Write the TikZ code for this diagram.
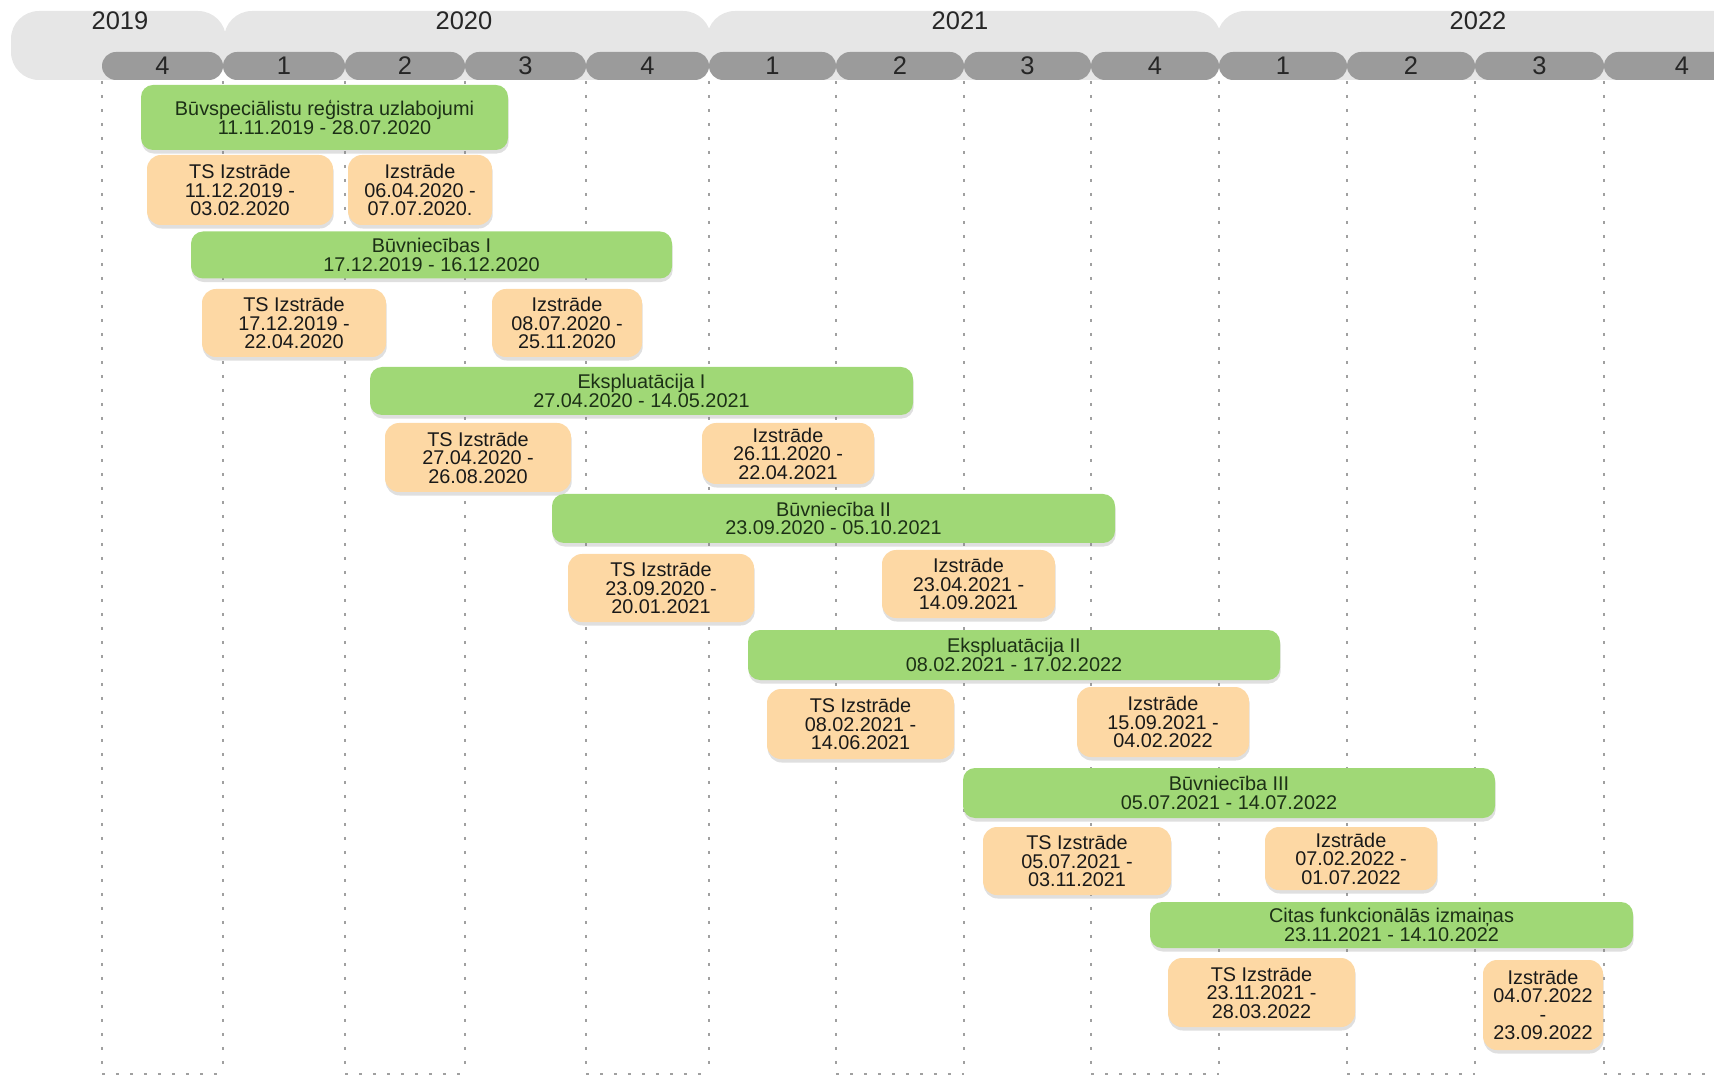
\documentclass[tikz,border=0pt]{standalone}
\usepackage{fontspec}
\setmainfont{Liberation Sans}
\usetikzlibrary{shadows}
\definecolor{bargreen}{RGB}{160,216,118}
\definecolor{taskorange}{RGB}{253,216,164}
\definecolor{yearbg}{RGB}{230,230,230}
\definecolor{qgrey}{RGB}{155,155,155}
\definecolor{gridgrey}{RGB}{160,160,160}
\definecolor{bartext}{RGB}{28,48,22}
\tikzset{
  phase/.style 2 args={fill=bargreen, rounded corners=0.24cm, minimum width=#1*0.02cm, minimum height=#2*0.02cm, inner sep=0pt, align=center, text=bartext, font=\fontsize{11.3}{10.5}\selectfont, drop shadow={shadow xshift=0.4pt, shadow yshift=-2pt, opacity=0.25}},
  task/.style 2 args={fill=taskorange, rounded corners=0.28cm, minimum width=#1*0.02cm, minimum height=#2*0.02cm, inner sep=0pt, align=center, text=black!90, font=\fontsize{11.3}{10.5}\selectfont, drop shadow={shadow xshift=0.4pt, shadow yshift=-2pt, opacity=0.25}},
  quarter/.style={fill=qgrey, rounded corners=0.28cm, minimum height=0.56cm, inner sep=0pt, text=black!85, font=\fontsize{14.5}{15}\selectfont},
  yearlabel/.style={inner sep=0pt, text=black!85, font=\fontsize{14.5}{15}\selectfont},
  gridline/.style={draw=gridgrey, line width=0.04cm, dash pattern=on 0.06cm off 0.22cm}
}
\begin{document}
\begin{tikzpicture}[x=0.02cm, y=-0.02cm]
  \useasboundingbox (0,0) rectangle (1714,1077);
  \begin{scope}
    \clip (0,0) rectangle (1714,1077);
    \fill[yearbg, rounded corners=0.56cm] (11,11) rectangle (226,80);
    \fill[yearbg, rounded corners=0.56cm] (224,11) rectangle (711,80);
    \fill[yearbg, rounded corners=0.56cm] (707,11) rectangle (1221,80);
    \fill[yearbg, rounded corners=0.56cm] (1217,11) rectangle (1760,80);
    \foreach \a/\b/\q [count=\i] in {102/223/4, 223/345/1, 345/465/2, 465/586/3, 586/709/4, 709/836/1, 836/964/2, 964/1091/3, 1091/1219/4, 1219/1347/1, 1347/1475/2, 1475/1604/3, 1604/1760/4}
      \node[quarter, minimum width=(\b-\a)*0.02cm] (q\i) at ({(\a+\b)/2},66) {\q};
  \end{scope}
  \node[yearlabel] (y2019) at (120,21) {2019};
  \node[yearlabel] (y2020) at (464,21) {2020};
  \node[yearlabel] (y2021) at (960,21) {2021};
  \node[yearlabel] (y2022) at (1478,21) {2022};
  \foreach \x in {102,223,345,465,586,709,836,964,1091,1219,1347,1475,1604}
    \draw[gridline] (\x,81) -- (\x,1074);
  \foreach \a/\b in {102/223, 345/465, 586/709, 836/964, 1091/1219, 1347/1475, 1604/1714}
    \draw[gridline] (\a,1074) -- (\b,1074);

  \node[phase={367}{65}] (bsr) at (324.5,117.5) {Būvspeciālistu reģistra uzlabojumi\\11.11.2019 - 28.07.2020};
  \node[task={186}{70}] (bsrts) at (240,190) {TS Izstrāde\\11.12.2019 -\\03.02.2020};
  \node[task={144}{70}] (bsriz) at (420,190) {Izstrāde\\06.04.2020 -\\07.07.2020.};

  \node[phase={481}{47}] (bv1) at (431.5,255) {Būvniecības I\\17.12.2019 - 16.12.2020};
  \node[task={184}{68}] (bv1ts) at (294,323) {TS Izstrāde\\17.12.2019 -\\22.04.2020};
  \node[task={150}{68}] (bv1iz) at (567,323) {Izstrāde\\08.07.2020 -\\25.11.2020};

  \node[phase={543}{48}] (ek1) at (641.5,391) {Ekspluatācija I\\27.04.2020 - 14.05.2021};
  \node[task={186}{69}] (ek1ts) at (478,457.5) {TS Izstrāde\\27.04.2020 -\\26.08.2020};
  \node[task={172}{61}] (ek1iz) at (788,453.5) {Izstrāde\\26.11.2020 -\\22.04.2021};

  \node[phase={563}{49}] (bv2) at (833.5,518.5) {Būvniecība II\\23.09.2020 - 05.10.2021};
  \node[task={186}{68}] (bv2ts) at (661,588) {TS Izstrāde\\23.09.2020 -\\20.01.2021};
  \node[task={173}{68}] (bv2iz) at (968.5,584) {Izstrāde\\23.04.2021 -\\14.09.2021};

  \node[phase={532}{50}] (ek2) at (1014,655) {Ekspluatācija II\\08.02.2021 - 17.02.2022};
  \node[task={187}{70}] (ek2ts) at (860.5,724) {TS Izstrāde\\08.02.2021 -\\14.06.2021};
  \node[task={172}{70}] (ek2iz) at (1163,722) {Izstrāde\\15.09.2021 -\\04.02.2022};

  \node[phase={532}{50}] (bv3) at (1229,793) {Būvniecība III\\05.07.2021 - 14.07.2022};
  \node[task={188}{68}] (bv3ts) at (1077,861) {TS Izstrāde\\05.07.2021 -\\03.11.2021};
  \node[task={172}{63}] (bv3iz) at (1351,858.5) {Izstrāde\\07.02.2022 -\\01.07.2022};

  \node[phase={483}{46}] (cfi) at (1391.5,925) {Citas funkcionālās izmaiņas\\23.11.2021 - 14.10.2022};
  \node[task={187}{69}] (cfits) at (1261.5,992.5) {TS Izstrāde\\23.11.2021 -\\28.03.2022};
  \node[task={120}{90}] (cfiiz) at (1543,1005) {Izstrāde\\04.07.2022\\-\\23.09.2022};
\end{tikzpicture}
\end{document}
